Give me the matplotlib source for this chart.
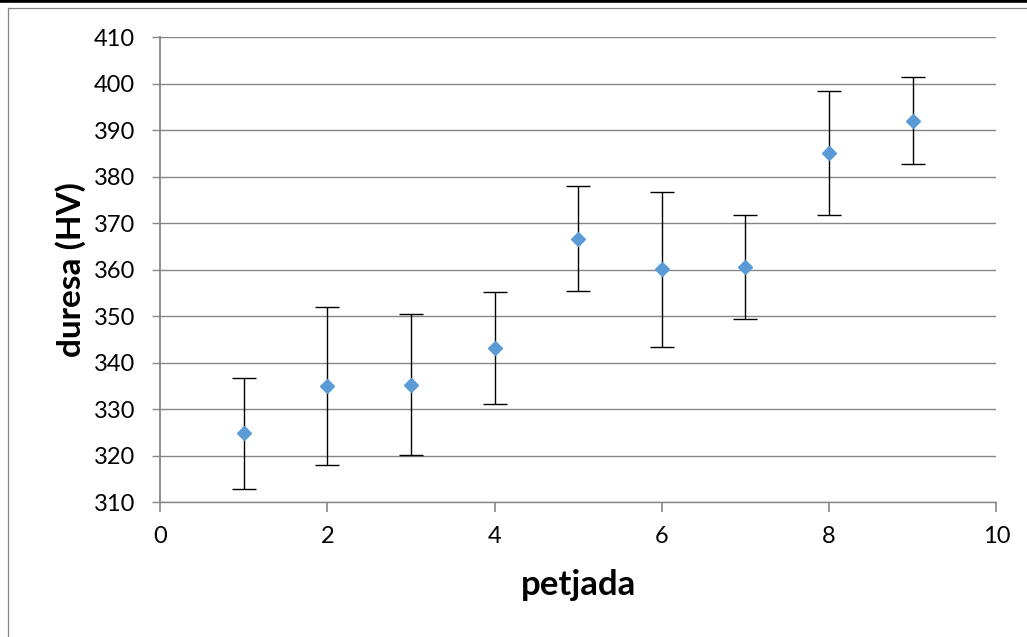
import matplotlib
matplotlib.use("Agg")
import matplotlib.pyplot as plt
from matplotlib.lines import Line2D

plt.rcParams['font.family'] = ['Lato', 'DejaVu Sans']

# hardness per indentation, with standard deviation
petjada = [1, 2, 3, 4, 5, 6, 7, 8, 9]
duresa = [324.8, 335.0, 335.3, 343.2, 366.7, 360.1, 360.6, 385.1, 392.1]
desv = [11.9, 17.0, 15.1, 12.1, 11.3, 16.6, 11.2, 13.4, 9.4]

x_ticks = [0, 2, 4, 6, 8, 10]
y_ticks = list(range(310, 411, 10))

grey = '#868686'
blue = '#5B9BD5'

fig = plt.figure(figsize=(10.27, 6.37), dpi=100)
ax = fig.add_axes([0.1558, 0.2115, 0.9701 - 0.1558, 0.9414 - 0.2115])

ax.errorbar(petjada, duresa, yerr=desv, fmt='D', color=blue, ms=7.5,
            ecolor='black', elinewidth=1.0, capsize=8.5, capthick=1.0, zorder=3)

ax.set_xlim(0, 10)
ax.set_ylim(310, 410)
ax.set_xticks(x_ticks)
ax.set_yticks(y_ticks)

ax.grid(axis='y', color=grey, linewidth=1.0)
ax.set_axisbelow(True)
for s in ['top', 'right']:
    ax.spines[s].set_visible(False)
for s in ['left', 'bottom']:
    ax.spines[s].set_color(grey)
ax.spines['left'].set_linewidth(1.3)
ax.spines['bottom'].set_linewidth(1.0)

ax.tick_params(axis='y', direction='out', length=6, width=1.0, color=grey,
               labelsize=17, pad=12)
ax.tick_params(axis='x', direction='out', length=7, width=1.2, color=grey,
               labelsize=17, pad=10)

ax.set_xlabel('petjada', fontsize=25, fontweight='bold')
ax.set_ylabel('duresa (HV)', fontsize=24, fontweight='bold')
ax.xaxis.set_label_coords(0.5, -0.143)
ax.yaxis.set_label_coords(-0.088, 0.5)

# chart frame and the rule above it
fig.add_artist(Line2D([0, 1], [0.9985, 0.9985], transform=fig.transFigure,
                      color='black', linewidth=2.6))
fig.add_artist(Line2D([8 / 1027, 1], [1 - 8 / 637, 1 - 8 / 637],
                      transform=fig.transFigure, color=grey, linewidth=0.9))
fig.add_artist(Line2D([8 / 1027, 8 / 1027], [0, 1 - 8 / 637],
                      transform=fig.transFigure, color=grey, linewidth=0.9))

fig.savefig('out.png', dpi=100)
